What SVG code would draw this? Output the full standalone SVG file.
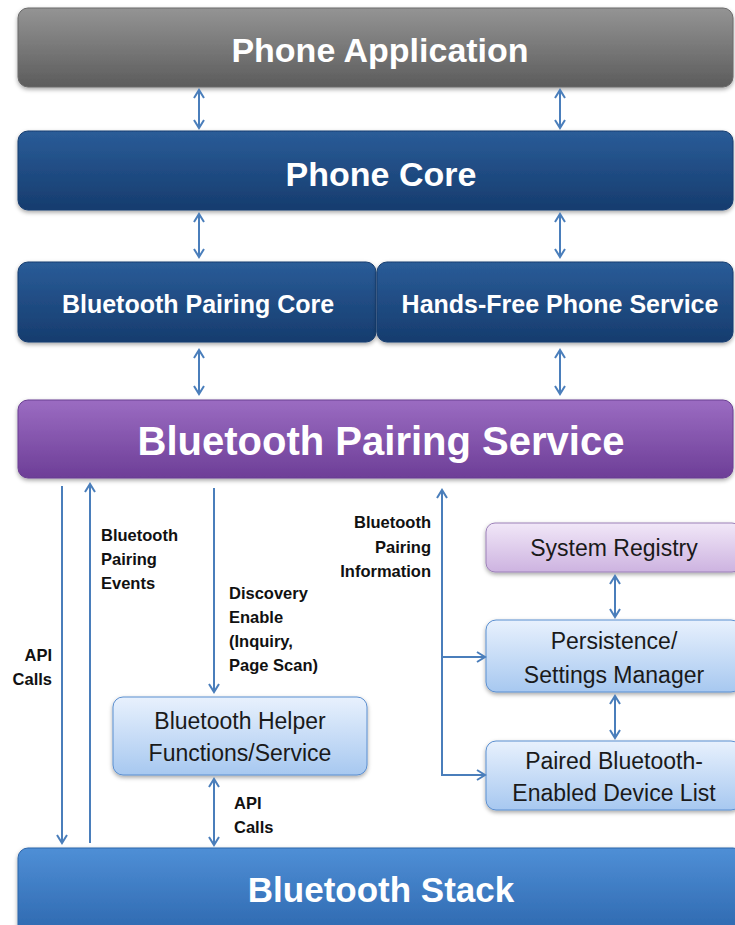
<svg xmlns="http://www.w3.org/2000/svg" width="735" height="925" viewBox="0 0 735 925">
<style>
.big{font-family:"Liberation Sans",Arial,sans-serif;font-weight:bold;fill:#ffffff;text-anchor:middle}
.box{font-family:"Liberation Sans",Arial,sans-serif;fill:#1a1a1a;text-anchor:middle;font-size:23px}
.lbl{font-family:"Liberation Sans",Arial,sans-serif;font-weight:bold;fill:#111111;font-size:16.5px}
.conn line,.conn path{stroke:#4a7ebb;stroke-width:2;fill:none}
.both{marker-start:url(#ah);marker-end:url(#ah)}
.end{marker-end:url(#ah)}
</style>
<defs>
<marker id="ah" markerUnits="userSpaceOnUse" markerWidth="14" markerHeight="14" refX="9" refY="6" orient="auto-start-reverse" viewBox="0 0 14 12">
<path d="M1,1 L9,6 L1,11" fill="none" stroke="#4a7ebb" stroke-width="2"/>
</marker>
<linearGradient id="gGray" x1="0" y1="0" x2="0" y2="1"><stop offset="0" stop-color="#949494"/><stop offset="1" stop-color="#5c5c5c"/></linearGradient>
<linearGradient id="gDark" x1="0" y1="0" x2="0" y2="1"><stop offset="0" stop-color="#2a5c98"/><stop offset="1" stop-color="#163c6e"/></linearGradient>
<linearGradient id="gPurple" x1="0" y1="0" x2="0" y2="1"><stop offset="0" stop-color="#9b6cc2"/><stop offset="1" stop-color="#6d3e97"/></linearGradient>
<linearGradient id="gLav" x1="0" y1="0" x2="0" y2="1"><stop offset="0" stop-color="#f1e7f8"/><stop offset="1" stop-color="#cdb3e0"/></linearGradient>
<linearGradient id="gLight" x1="0" y1="0" x2="0" y2="1"><stop offset="0" stop-color="#e8f1fd"/><stop offset="1" stop-color="#a7c8f0"/></linearGradient>
<linearGradient id="gStack" x1="0" y1="0" x2="0" y2="1"><stop offset="0" stop-color="#4f8fd6"/><stop offset="1" stop-color="#2c66ad"/></linearGradient>
<filter id="sh" x="-5%" y="-10%" width="110%" height="130%"><feDropShadow dx="0" dy="2" stdDeviation="2" flood-color="#000" flood-opacity="0.35"/></filter>
</defs>
<rect width="735" height="925" fill="#ffffff"/>

<g id="phone-application">
<rect x="18" y="8" width="715" height="79" rx="10" fill="url(#gGray)" stroke="#6a6a6a" filter="url(#sh)"/>
<text class="big" x="380" y="62" font-size="34">Phone Application</text>
</g>
<g id="phone-core">
<rect x="18" y="131" width="715" height="79" rx="10" fill="url(#gDark)" stroke="#173e70" filter="url(#sh)"/>
<text class="big" x="381" y="186" font-size="34">Phone Core</text>
</g>
<g id="bt-pairing-core">
<rect x="18" y="262" width="358" height="80" rx="10" fill="url(#gDark)" stroke="#173e70" filter="url(#sh)"/>
<text class="big" x="198" y="313" font-size="25">Bluetooth Pairing Core</text>
</g>
<g id="hands-free">
<rect x="377" y="262" width="356" height="80" rx="10" fill="url(#gDark)" stroke="#173e70" filter="url(#sh)"/>
<text class="big" x="560" y="313" font-size="25">Hands-Free Phone Service</text>
</g>
<g id="bt-pairing-service">
<rect x="18" y="400" width="715" height="78" rx="10" fill="url(#gPurple)" stroke="#6a3f92" filter="url(#sh)"/>
<text class="big" x="381" y="455" font-size="40">Bluetooth Pairing Service</text>
</g>
<g id="system-registry">
<rect x="486" y="523" width="255" height="49" rx="9" fill="url(#gLav)" stroke="#9c80b8" filter="url(#sh)"/>
<text class="box" x="614" y="556">System Registry</text>
</g>
<g id="persistence">
<rect x="486" y="620" width="255" height="72" rx="10" fill="url(#gLight)" stroke="#5b8fd0" filter="url(#sh)"/>
<text class="box" x="614" y="649">Persistence/</text>
<text class="box" x="614" y="683">Settings Manager</text>
</g>
<g id="paired-list">
<rect x="486" y="741" width="255" height="69" rx="10" fill="url(#gLight)" stroke="#5b8fd0" filter="url(#sh)"/>
<text class="box" x="614" y="769">Paired Bluetooth-</text>
<text class="box" x="614" y="801">Enabled Device List</text>
</g>
<g id="bt-helper">
<rect x="113" y="697" width="254" height="78" rx="10" fill="url(#gLight)" stroke="#5b8fd0" filter="url(#sh)"/>
<text class="box" x="240" y="729">Bluetooth Helper</text>
<text class="box" x="240" y="761">Functions/Service</text>
</g>
<g id="bt-stack">
<rect x="18" y="848" width="725" height="90" rx="10" fill="url(#gStack)" stroke="#2d66aa" filter="url(#sh)"/>
<text class="big" x="381" y="902" font-size="35">Bluetooth Stack</text>
</g>

<g id="connectors" class="conn">
<line class="both" x1="199" y1="90" x2="199" y2="128"/>
<line class="both" x1="560" y1="90" x2="560" y2="128"/>
<line class="both" x1="199" y1="214" x2="199" y2="257"/>
<line class="both" x1="560" y1="214" x2="560" y2="257"/>
<line class="both" x1="199" y1="350" x2="199" y2="394"/>
<line class="both" x1="560" y1="350" x2="560" y2="394"/>
<line class="end" x1="62" y1="486" x2="62" y2="843"/>
<line class="end" x1="90" y1="843" x2="90" y2="484"/>
<line class="end" x1="214" y1="488" x2="214" y2="692"/>
<line class="end" x1="442" y1="775" x2="442" y2="490"/>
<line class="end" x1="442" y1="657" x2="485" y2="657"/>
<line class="end" x1="441" y1="775" x2="485" y2="775"/>
<line class="both" x1="615" y1="576" x2="615" y2="617"/>
<line class="both" x1="615" y1="696" x2="615" y2="738"/>
<line class="both" x1="214" y1="779" x2="214" y2="845"/>
</g>

<g id="labels">
<text class="lbl" x="101" y="541">Bluetooth</text>
<text class="lbl" x="101" y="565">Pairing</text>
<text class="lbl" x="101" y="589">Events</text>
<text class="lbl" x="52" y="661" text-anchor="end">API</text>
<text class="lbl" x="52" y="685" text-anchor="end">Calls</text>
<text class="lbl" x="229" y="599">Discovery</text>
<text class="lbl" x="229" y="623">Enable</text>
<text class="lbl" x="229" y="647">(Inquiry,</text>
<text class="lbl" x="229" y="671">Page Scan)</text>
<text class="lbl" x="431" y="528" text-anchor="end">Bluetooth</text>
<text class="lbl" x="431" y="553" text-anchor="end">Pairing</text>
<text class="lbl" x="431" y="577" text-anchor="end">Information</text>
<text class="lbl" x="234" y="809">API</text>
<text class="lbl" x="234" y="833">Calls</text>
</g>
</svg>
